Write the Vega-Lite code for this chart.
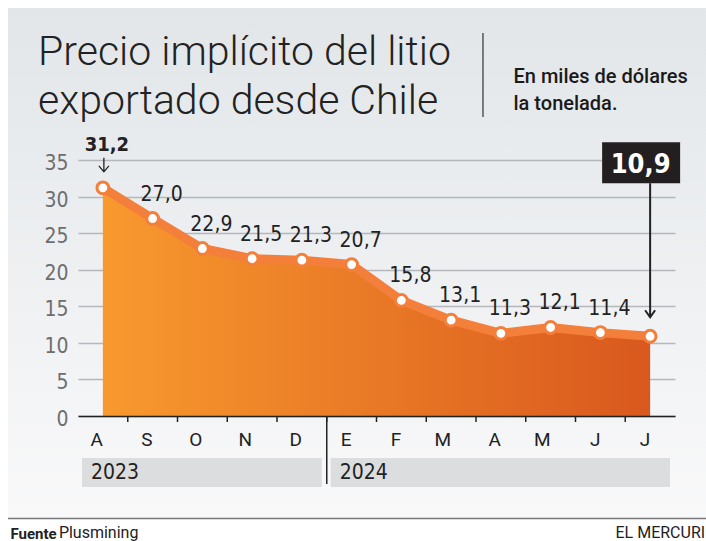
{
  "$schema": "https://vega.github.io/schema/vega-lite/v6.json",
  "width": 698,
  "height": 510,
  "autosize": {"type": "none"},
  "padding": {"left": 8, "top": 8, "right": 0, "bottom": 23},
  "background": "white",
  "config": {
    "view": {"stroke": null, "fill": {"gradient": "linear", "x1": 0, "y1": 0, "x2": 0, "y2": 1, "stops": [{"offset": 0, "color": "#e2e6e9"}, {"offset": 1, "color": "#f9f9fa"}]}},
    "locale": {"number": {"decimal": ",", "thousands": ".", "grouping": [3], "currency": ["$", ""]}}
  },
  "title": {
    "text": ["Precio implícito del litio", "exportado desde Chile"],
    "anchor": "start", "frame": "group", "orient": "top", "offset": 0,
    "dx": 30, "dy": 147, "baseline": "alphabetic",
    "font": "Roboto", "fontSize": 41, "fontWeight": 300, "color": "#222222", "lineHeight": 49
  },
  "datasets": {
    "precios": [
      {"mes": "ago 2023", "valor": 31.2},
      {"mes": "sep 2023", "valor": 27.0},
      {"mes": "oct 2023", "valor": 22.9},
      {"mes": "nov 2023", "valor": 21.5},
      {"mes": "dic 2023", "valor": 21.3},
      {"mes": "ene 2024", "valor": 20.7},
      {"mes": "feb 2024", "valor": 15.8},
      {"mes": "mar 2024", "valor": 13.1},
      {"mes": "abr 2024", "valor": 11.3},
      {"mes": "may 2024", "valor": 12.1},
      {"mes": "jun 2024", "valor": 11.4},
      {"mes": "jul 2024", "valor": 10.9}
    ],
    "anios": [
      {"anio": "2023", "desde": "ago 2023", "hasta": "dic 2023"},
      {"anio": "2024", "desde": "ene 2024", "hasta": "jul 2024"}
    ]
  },
  "layer": [
    {
      "data": {"name": "anios"},
      "mark": {"type": "rect", "color": "#dcdddf", "xOffset": 4, "x2Offset": -5},
      "encoding": {
        "x": {"field": "desde", "type": "ordinal", "bandPosition": 0,
          "scale": {"domain": ["ago 2023", "sep 2023", "oct 2023", "nov 2023", "dic 2023", "ene 2024", "feb 2024", "mar 2024", "abr 2024", "may 2024", "jun 2024", "jul 2024"], "range": [70, 667], "paddingInner": 0, "paddingOuter": 0}},
        "x2": {"field": "hasta", "bandPosition": 1},
        "y": {"datum": -5.742, "type": "quantitative"},
        "y2": {"datum": -9.707}
      }
    },
    {
      "data": {"name": "anios"},
      "mark": {"type": "text", "align": "left", "baseline": "alphabetic", "dx": 13, "font": "DejaVu Sans Condensed", "fontSize": 21, "color": "#222222"},
      "encoding": {
        "x": {"field": "desde", "type": "ordinal", "bandPosition": 0},
        "y": {"datum": -8.61, "type": "quantitative"},
        "text": {"field": "anio"}
      }
    },
    {
      "data": {"name": "precios"},
      "mark": {"type": "area", "fill": {"gradient": "linear", "x1": 0, "y1": 0, "x2": 1, "y2": 0, "stops": [{"offset": 0, "color": "#f8992e"}, {"offset": 1, "color": "#d9581e"}]}},
      "encoding": {
        "x": {"field": "mes", "type": "ordinal",
          "scale": {"domain": ["ago 2023", "sep 2023", "oct 2023", "nov 2023", "dic 2023", "ene 2024", "feb 2024", "mar 2024", "abr 2024", "may 2024", "jun 2024", "jul 2024"], "range": [70, 667], "paddingInner": 0, "paddingOuter": 0},
          "axis": {
            "orient": "bottom", "offset": -102,
            "domainColor": "#222222", "domainWidth": 1.5,
            "ticks": false,
            "labelExpr": "upper(slice(datum.value, 0, 1))",
            "labelFont": "Roboto", "labelFontSize": 19, "labelColor": "#222222",
            "labelBaseline": "alphabetic", "labelPadding": 29, "labelAngle": 0, "labelOverlap": false,
            "title": "Fuente", "titleX": 2, "titleY": 122, "titleAlign": "left", "titleBaseline": "alphabetic", "titleAngle": 0,
            "titleFont": "Roboto", "titleFontSize": 15, "titleFontWeight": "bold", "titleColor": "#222222",
            "zindex": 1, "grid": false
          }
        },
        "y": {"field": "valor", "type": "quantitative",
          "scale": {"domain": [0, 35], "range": [408, 152], "nice": false, "zero": true},
          "axis": {
            "values": [0, 5, 10, 15, 20, 25, 30, 35],
            "grid": true, "gridColor": "#b4b8bc", "gridWidth": 1.5,
            "domain": false, "ticks": false,
            "labelPadding": -60, "labelAlign": "right", "labelBaseline": "alphabetic", "labelOffset": 9.5,
            "labelFont": "DejaVu Sans Condensed", "labelFontSize": 21, "labelColor": "#6e6e6e",
            "labelFlush": false, "labelOverlap": false,
            "title": ["En miles de dólares", "la tonelada."], "titleX": 505, "titleY": 74, "titleAngle": 0,
            "titleAlign": "left", "titleBaseline": "alphabetic",
            "titleFont": "Roboto", "titleFontSize": 20, "titleFontWeight": 500, "titleColor": "#1a1a1a", "titleLineHeight": 27
          }
        }
      }
    },
    {
      "data": {"name": "precios"},
      "transform": [{"filter": "datum.mes !== 'ago 2023'"}],
      "mark": {"type": "rule", "color": "#222222", "strokeWidth": 1.5},
      "encoding": {
        "x": {"field": "mes", "type": "ordinal", "bandPosition": 0},
        "y": {"datum": 0, "type": "quantitative"},
        "y2": {"datum": -0.82}
      }
    },
    {
      "data": {"name": "precios"},
      "mark": {"type": "line", "color": "#f47f3b", "strokeWidth": 9, "strokeJoin": "round", "strokeCap": "round"},
      "encoding": {
        "x": {"field": "mes", "type": "ordinal"},
        "y": {"field": "valor", "type": "quantitative"}
      }
    },
    {
      "data": {"name": "precios"},
      "mark": {"type": "point", "filled": true, "fill": "white", "stroke": "#f47f3b", "strokeWidth": 3, "size": 140, "opacity": 1},
      "encoding": {
        "x": {"field": "mes", "type": "ordinal"},
        "y": {"field": "valor", "type": "quantitative"}
      }
    },
    {
      "data": {"name": "precios"},
      "transform": [{"filter": "datum.mes !== 'ago 2023' && datum.mes !== 'jul 2024'"}],
      "mark": {"type": "text", "align": "center", "baseline": "alphabetic", "dx": 9, "dy": -18, "font": "DejaVu Sans Condensed", "fontSize": 21, "color": "#222222"},
      "encoding": {
        "x": {"field": "mes", "type": "ordinal"},
        "y": {"field": "valor", "type": "quantitative"},
        "text": {"field": "valor", "type": "quantitative", "format": ".1f"}
      }
    },
    {
      "data": {"name": "precios"},
      "transform": [{"filter": "datum.mes === 'ago 2023'"}],
      "mark": {"type": "text", "align": "center", "baseline": "alphabetic", "dx": 4, "dy": -37, "font": "DejaVu Sans Condensed", "fontSize": 20, "fontWeight": "bold", "color": "#222222"},
      "encoding": {
        "x": {"field": "mes", "type": "ordinal"},
        "y": {"field": "valor", "type": "quantitative"},
        "text": {"field": "valor", "type": "quantitative", "format": ".1f"}
      }
    },
    {
      "data": {"name": "precios"},
      "transform": [{"filter": "datum.mes === 'ago 2023'"}],
      "mark": {"type": "point", "filled": false, "shape": "M1,-30V-16M-4,-22L1,-16L6,-22", "size": 4, "stroke": "#222222", "strokeWidth": 1.3, "opacity": 1},
      "encoding": {
        "x": {"field": "mes", "type": "ordinal"},
        "y": {"field": "valor", "type": "quantitative"}
      }
    },
    {
      "data": {"name": "precios"},
      "transform": [{"filter": "datum.mes === 'jul 2024'"}],
      "mark": {"type": "point", "filled": false, "shape": "M0,-153V-19M-5,-26L0,-19L5,-26", "size": 4, "stroke": "#222222", "strokeWidth": 2, "opacity": 1},
      "encoding": {
        "x": {"field": "mes", "type": "ordinal"},
        "y": {"field": "valor", "type": "quantitative"}
      }
    },
    {
      "data": {"name": "precios"},
      "transform": [{"filter": "datum.mes === 'jul 2024'"}],
      "mark": {"type": "point", "filled": true, "shape": "M-48,-194H30V-153H-48Z", "size": 4, "color": "#231f20", "strokeWidth": 0, "opacity": 1},
      "encoding": {
        "x": {"field": "mes", "type": "ordinal"},
        "y": {"field": "valor", "type": "quantitative"}
      }
    },
    {
      "data": {"name": "precios"},
      "transform": [{"filter": "datum.mes === 'jul 2024'"}],
      "mark": {"type": "text", "align": "center", "baseline": "alphabetic", "dx": -9.5, "dy": -163, "font": "DejaVu Sans Condensed", "fontSize": 27, "fontWeight": "bold", "color": "white"},
      "encoding": {
        "x": {"field": "mes", "type": "ordinal"},
        "y": {"field": "valor", "type": "quantitative"},
        "text": {"field": "valor", "type": "quantitative", "format": ".1f"}
      }
    },
    {
      "data": {"values": [{}]},
      "mark": {"type": "rule", "color": "#222222", "strokeWidth": 1.5, "xOffset": -24.875},
      "encoding": {
        "x": {"datum": "ene 2024", "type": "ordinal"},
        "y": {"datum": 0, "type": "quantitative"},
        "y2": {"datum": -9.3}
      }
    },
    {
      "data": {"values": [{}]},
      "mark": {"type": "rule", "color": "#7a7a7a", "strokeWidth": 1.5},
      "encoding": {
        "y": {"datum": -14.01, "type": "quantitative"}
      }
    },
    {
      "data": {"values": [{}]},
      "mark": {"type": "rule", "color": "#555555", "strokeWidth": 1.5, "xOffset": -17.9},
      "encoding": {
        "x": {"datum": "abr 2024", "type": "ordinal"},
        "y": {"datum": 52.36, "type": "quantitative"},
        "y2": {"datum": 40.88}
      }
    },
    {
      "data": {"values": [{}]},
      "mark": {"type": "text", "align": "left", "baseline": "alphabetic", "dx": -44, "font": "Roboto", "fontSize": 16, "color": "#222222"},
      "encoding": {
        "x": {"datum": "ago 2023", "type": "ordinal"},
        "y": {"datum": -16.68, "type": "quantitative"},
        "text": {"value": "Plusmining"}
      }
    },
    {
      "data": {"values": [{}]},
      "mark": {"type": "text", "align": "right", "baseline": "alphabetic", "dx": 55, "font": "Roboto", "fontSize": 16, "color": "#222222"},
      "encoding": {
        "x": {"datum": "jul 2024", "type": "ordinal"},
        "y": {"datum": -16.68, "type": "quantitative"},
        "text": {"value": "EL MERCURI"}
      }
    }
  ]
}
